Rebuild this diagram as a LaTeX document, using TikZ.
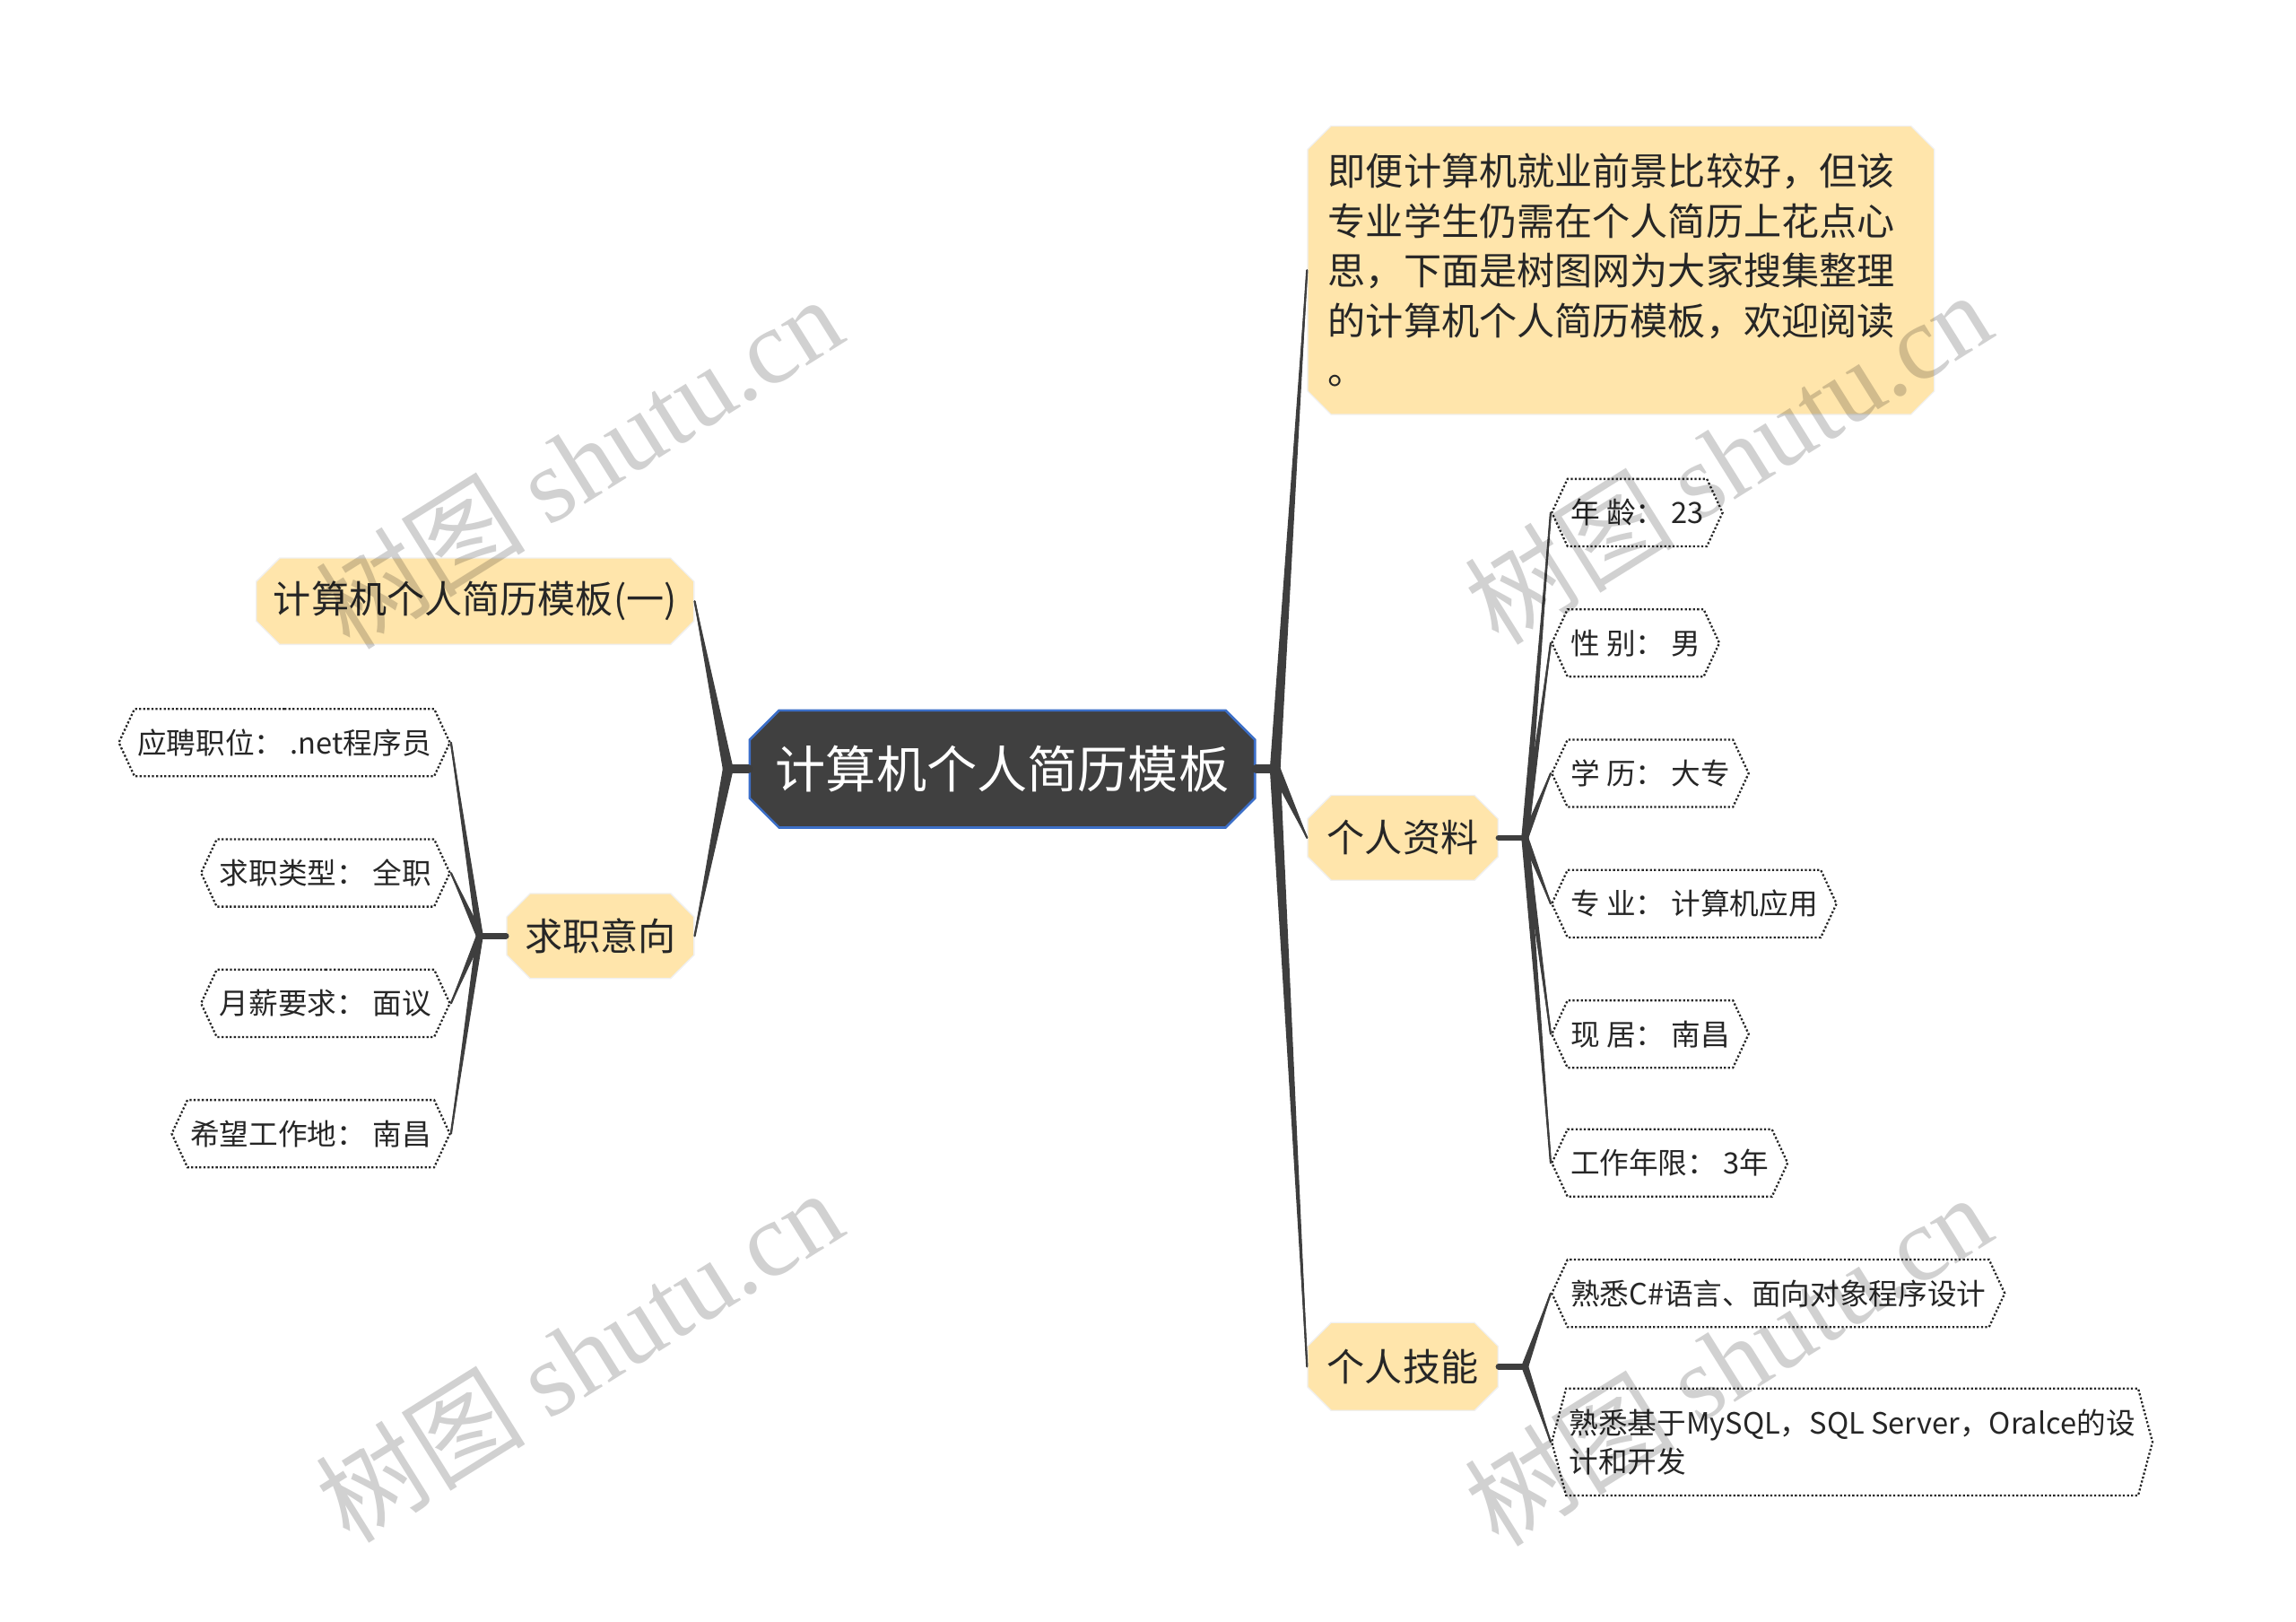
\documentclass[tikz,border=0pt]{standalone}
\usepackage{fontspec}
\setmainfont{Noto Sans CJK SC}
\newfontfamily\wmlatin{Liberation Serif}
\usetikzlibrary{calc,shapes.misc,shapes.symbols}
\definecolor{rootgray}{HTML}{404040}
\definecolor{rootblue}{HTML}{3C6FC8}
\definecolor{softyellow}{HTML}{FFE5AB}
\definecolor{limbgray}{HTML}{3E3E3E}
% tapered connector: hub, target anchor, half width at the hub
\newcommand{\branchto}[3]{%
  \fill[limb] ($(#1)!#3!90:(#2)$) -- (#2) -- ($(#1)!#3!-90:(#2)$) -- cycle;
  \draw[limb, line width=0.7pt] (#1) -- (#2);}

\begin{document}
\begin{tikzpicture}[x=0.5pt, y=-0.5pt]
  \tikzstyle{limb}=[fill=limbgray, draw=limbgray, line cap=round]
  \tikzstyle{rootbox}=[chamfered rectangle, chamfered rectangle xsep=5pt, chamfered rectangle ysep=5pt, draw=rootblue, line width=0.8pt, fill=rootgray, text=white, inner sep=0pt, font=\fontsize{17.2}{20}\selectfont]
  \tikzstyle{topic}=[chamfered rectangle, chamfered rectangle xsep=4pt, chamfered rectangle ysep=4pt, draw=black!6, fill=softyellow, text=black!85, inner sep=0pt, font=\fontsize{12.9}{17}\selectfont]
  \tikzstyle{leaf}=[shape=signal, signal to=east and west, signal pointer angle=130, draw=black!85, dash pattern=on 0.7pt off 0.7pt, line width=0.7pt, minimum height=23pt, inner xsep=1pt, inner ysep=0pt, text=black!85, font=\fontsize{10}{13}\selectfont]
  \tikzstyle{wmark}=[text=black, text opacity=0.18, rotate=32, font=\fontsize{36}{36}\selectfont]
  \useasboundingbox (0,0) rectangle (1568,1107);

  \node[rootbox, minimum width=172.5pt, minimum height=40pt] (root) at (684.5,525) {计算机个人简历模板};

  \node[topic, minimum width=149.5pt, minimum height=29.5pt] (tpl) at (324.5,410.5) {计算机个人简历模板(一)};
  \node[topic, minimum width=64pt, minimum height=29pt] (intent) at (410,639) {求职意向};
  \node[topic, minimum width=214pt, minimum height=98.5pt, text width=200pt, align=left] (intro) at (1107,184.5) {即便计算机就业前景比较好，但该\\专业学生仍需在个人简历上花点心\\思，下面是树图网为大家搜集整理\\的计算机个人简历模板，欢迎阅读\\。};
  \node[topic, minimum width=65pt, minimum height=29pt] (profile) at (958,572) {个人资料};
  \node[topic, minimum width=65pt, minimum height=30pt] (skills) at (958,933) {个人技能};

  \node[leaf, anchor=east] (job) at (308,507) {应聘职位： .net程序员};
  \node[leaf, anchor=east] (kind) at (308,596) {求职类型： 全职};
  \node[leaf, anchor=east] (pay) at (308,685) {月薪要求： 面议};
  \node[leaf, anchor=east] (place) at (308,774) {希望工作地： 南昌};

  \node[leaf, anchor=west] (age) at (1059,350) {年 龄： 23};
  \node[leaf, anchor=west] (sex) at (1059,439) {性 别： 男};
  \node[leaf, anchor=west] (edu) at (1059,528) {学 历： 大专};
  \node[leaf, anchor=west] (major) at (1059,617) {专 业： 计算机应用};
  \node[leaf, anchor=west] (home) at (1059,706) {现 居： 南昌};
  \node[leaf, anchor=west] (years) at (1059,794) {工作年限： 3年};

  \node[leaf, anchor=west] (csharp) at (1059,883) {熟悉C\#语言、面向对象程序设计};
  \node[leaf, anchor=west, align=left, signal pointer angle=150, minimum height=36.5pt] (dbase) at (1059,984.5) {熟悉基于MySQL，SQL Server，Oralce的设\\计和开发};

  \coordinate (rhub) at ([xshift=6.5pt]root.east);
  \coordinate (lhub) at ([xshift=-7pt]root.west);
  \coordinate (ihub) at ([xshift=-9pt]intent.west);
  \coordinate (phub) at ([xshift=9pt]profile.east);
  \coordinate (shub) at ([xshift=9pt]skills.east);

  \draw[limb, line width=3pt] (root.east) -- (rhub);
  \draw[limb, line width=3pt] (root.west) -- (lhub);
  \foreach \n in {intro,profile,skills} {\branchto{rhub}{\n.west}{1.6pt}}
  \foreach \n in {tpl,intent} {\branchto{lhub}{\n.east}{1.6pt}}

  \draw[limb, line width=2pt] (intent.west) -- (ihub);
  \foreach \n in {job,kind,pay,place} {\branchto{ihub}{\n.east}{1pt}}
  \draw[limb, line width=2pt] (profile.east) -- (phub);
  \foreach \n in {age,sex,edu,major,home,years} {\branchto{phub}{\n.west}{1pt}}
  \draw[limb, line width=2pt] (skills.east) -- (shub);
  \foreach \n in {csharp,dbase} {\branchto{shub}{\n.west}{1pt}}

  \node[wmark] (wm1) at (395,315) {树图 {\wmlatin shutu.cn}};
  \node[wmark] (wm2) at (1180,312) {树图 {\wmlatin shutu.cn}};
  \node[wmark] (wm3) at (395,925) {树图 {\wmlatin shutu.cn}};
  \node[wmark] (wm4) at (1180,928) {树图 {\wmlatin shutu.cn}};
\end{tikzpicture}
\end{document}
